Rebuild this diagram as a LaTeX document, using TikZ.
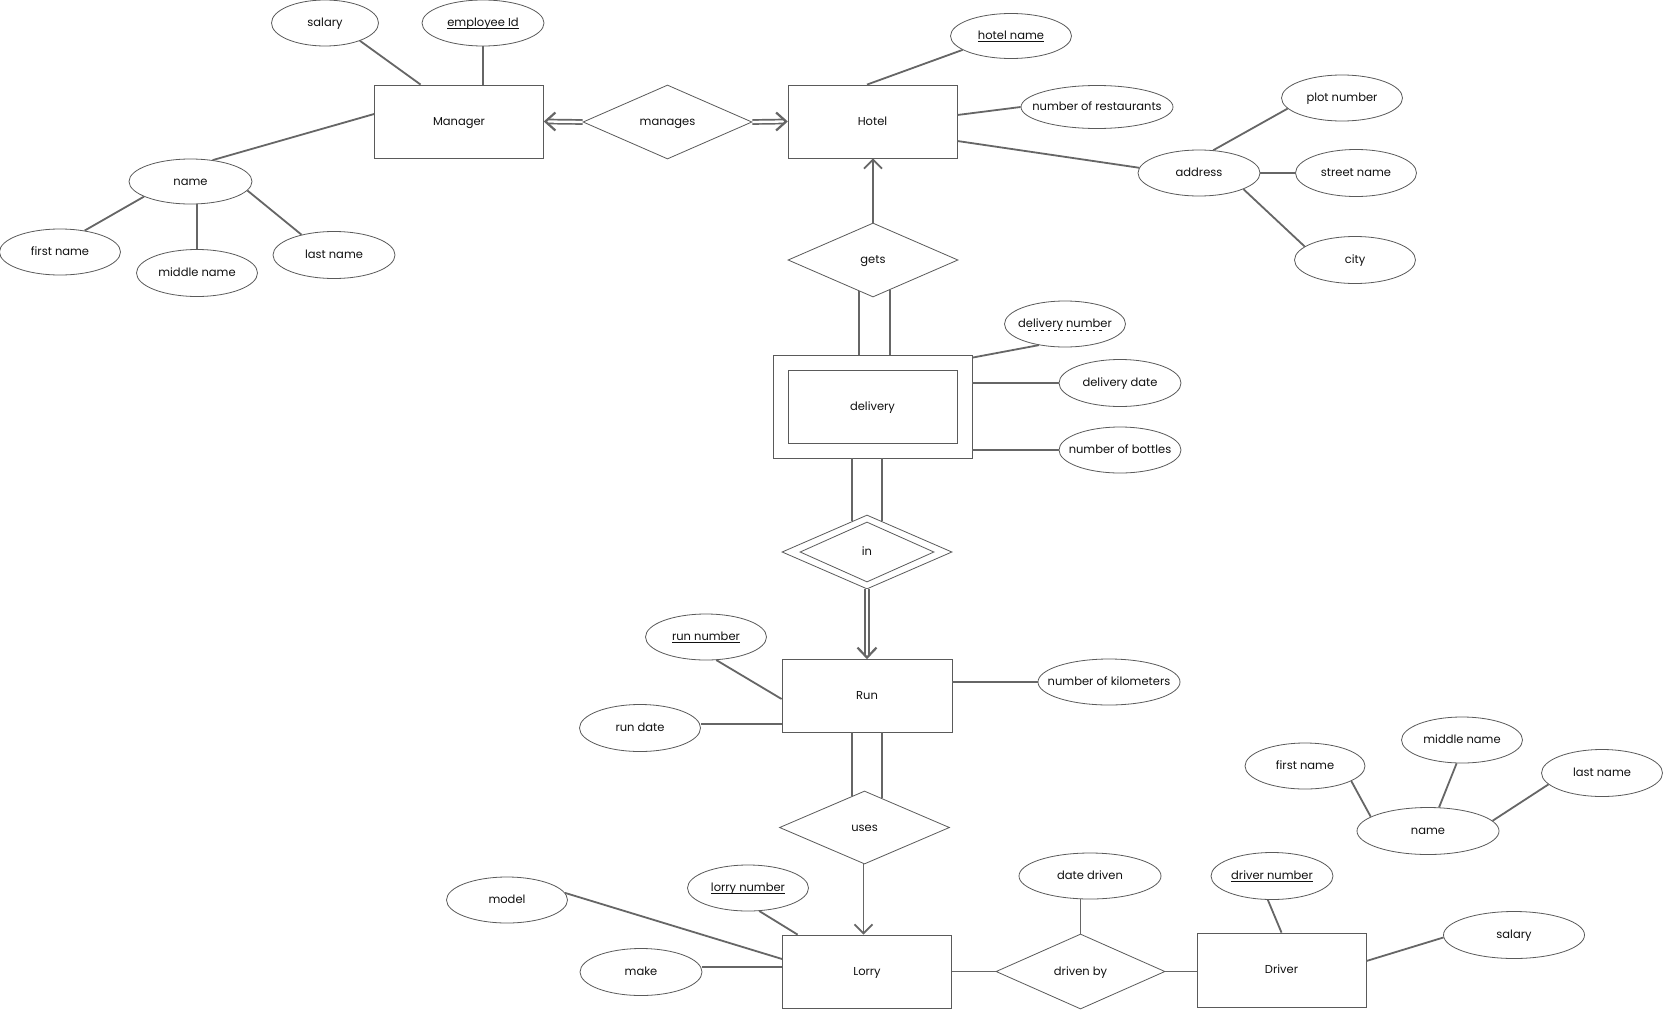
\documentclass[tikz,border=0pt]{standalone}
\usepackage{fontspec}
\setmainfont{Poppins}
\usetikzlibrary{shapes.geometric,arrows.meta,calc}
\definecolor{shp}{HTML}{5A5A5A}
\definecolor{lc}{HTML}{666666}
\definecolor{tx}{HTML}{111111}
\newcommand\mbx[1]{\makebox[0pt]{#1}}
\newsavebox\ulbox
\newcommand\solidul[1]{\sbox\ulbox{#1}\rlap{\raisebox{-2.6pt}{\rule{\wd\ulbox}{0.7pt}}}\usebox\ulbox}
\newcommand\dashul[1]{\sbox\ulbox{#1}\rlap{\raisebox{-2.6pt}{\hbox to \wd\ulbox{\hskip 8pt\xleaders\hbox to 6pt{\hss\rule{2.6pt}{0.6pt}\hss}\hfill\hskip 8pt}}}\usebox\ulbox}
\begin{document}
\begin{tikzpicture}[x=1pt,y=-1pt,
  every node/.style={font=\fontsize{11.5}{13}\selectfont, text=tx, text height=7pt, text depth=0pt},
  ent/.style={rectangle, draw=shp, line width=0.8pt, inner sep=0, minimum width=169pt, minimum height=73pt},
  rel/.style={diamond, draw=shp, line width=0.8pt, inner sep=0, minimum width=170pt, minimum height=74pt},
  attr/.style={ellipse, draw=shp, line width=0.8pt, inner sep=0, minimum width=121pt, minimum height=46pt},
  conn/.style={draw=lc, line width=1.8pt},
  arr/.style={conn, -{Straight Barb[length=9pt,width=18pt]}},
  dbl/.style={draw=lc, line width=1.7pt, double=white, double distance=2.3pt},
  chev/.style={draw=lc, line width=2.2pt, line join=miter}]
\fill[white] (0,0) rectangle (1664,1009);
\useasboundingbox (0,0) rectangle (1664,1009);

% entities
\node[ent] (manager) at (459,121.5) {Manager};
\node[ent] (hotel) at (872.5,121.5) {Hotel};
\node[ent, minimum width=199pt, minimum height=103pt] (delivery) at (872.5,406.5) {};
\node[ent] (delivin) at (872.5,407) {delivery};
\node[ent, minimum width=170pt] (run) at (867,695.5) {Run};
\node[ent] (lorry) at (867,971.5) {Lorry};
\node[ent, minimum height=74pt] (driver) at (1281.5,970) {Driver};

% relationships
\node[rel, minimum width=169pt] (manages) at (667.5,122) {manages};
\node[rel] (gets) at (873,260) {gets};
\node[rel] (inrel) at (867,552) {};
\node[rel, minimum width=134pt, minimum height=60pt] (inrelin) at (867,552) {in};
\node[rel, minimum height=73pt] (uses) at (864.5,827.5) {uses};
\node[rel, minimum width=169pt, minimum height=75pt] (drivenby) at (1080.5,971.5) {driven by};

% attributes
\node[attr, minimum width=107pt] (salary1) at (325,23) {\mbx{salary}};
\node[attr, minimum width=122pt] (empid) at (483,23) {\mbx{\solidul{employee Id}}};
\node[attr, minimum width=123pt, minimum height=45pt] (name1) at (190.5,181.5) {\mbx{name}};
\node[attr] (fname1) at (60,252) {\mbx{first name}};
\node[attr, minimum height=47pt] (mname1) at (197,273) {\mbx{middle name}};
\node[attr, minimum width=122pt, minimum height=47pt] (lname1) at (334,255) {\mbx{last name}};
\node[attr, minimum height=45pt] (hotelname) at (1011,36) {\mbx{\solidul{hotel name}}};
\node[attr, minimum width=152pt, minimum height=43pt] (numrest) at (1097,107) {\mbx{number of restaurants}};
\node[attr, minimum width=122pt] (address) at (1199,173) {\mbx{address}};
\node[attr] (plot) at (1342,98) {\mbx{plot number}};
\node[attr, minimum height=47pt] (street) at (1356,173) {\mbx{street name}};
\node[attr, minimum height=47pt] (city) at (1355,260) {\mbx{city}};
\node[attr] (delnum) at (1065,324) {\mbx{\dashul{delivery number}}};
\node[attr, minimum width=122pt, minimum height=47pt] (deldate) at (1120,383) {\mbx{delivery date}};
\node[attr, minimum width=122pt] (numbot) at (1120,450) {\mbx{number of bottles}};
\node[attr] (runnum) at (706,637) {\mbx{\solidul{run number}}};
\node[attr, minimum height=47pt] (rundate) at (640,728) {\mbx{run date}};
\node[attr, minimum width=142pt] (numkm) at (1109,682) {\mbx{number of kilometers}};
\node[attr] (lorrynum) at (748,888) {\mbx{\solidul{lorry number}}};
\node[attr] (model) at (507,900) {\mbx{model}};
\node[attr, minimum width=122pt, minimum height=47pt] (make) at (641,972) {\mbx{make}};
\node[attr, minimum width=142pt] (datedriven) at (1090,876) {\mbx{date driven}};
\node[attr, minimum width=122pt, minimum height=47pt] (drivernum) at (1272,876) {\mbx{\solidul{driver number}}};
\node[attr, minimum width=120pt] (fname2) at (1305,766) {\mbx{first name}};
\node[attr] (mname2) at (1462,740) {\mbx{middle name}};
\node[attr, minimum height=47pt] (lname2) at (1602,773) {\mbx{last name}};
\node[attr, minimum width=142pt, minimum height=47pt] (name2) at (1428,831) {\mbx{name}};
\node[attr, minimum width=141pt, minimum height=47pt] (salary2) at (1514,935) {\mbx{salary}};

% manager attributes
\draw[conn] (salary1.-27) -- ([xshift=46.5pt]manager.north west);
\draw[conn] (empid.south) -- (empid.south |- manager.north);
\draw[conn] (name1.44) -- ([yshift=7.5pt]manager.west);
\draw[conn] (name1.198) -- (fname1.41.5);
\draw[conn] (mname1.north |- name1.south) -- (mname1.north);
\draw[conn] (name1.-9) -- (lname1.148);

% manages (double lines with open heads)
\draw[dbl] (manages.west) -- ([xshift=3pt]manager.east);
\draw[chev] ([xshift=11.5pt,yshift=9pt]manager.east) -- ([xshift=1.5pt]manager.east) -- ([xshift=11.5pt,yshift=-9pt]manager.east);
\draw[dbl] (manages.east) -- ([xshift=-3pt]hotel.west);
\draw[chev] ([xshift=-11.5pt,yshift=9pt]hotel.west) -- ([xshift=-1.5pt]hotel.west) -- ([xshift=-11.5pt,yshift=-9pt]hotel.west);

% hotel attributes
\draw[conn] ([xshift=-5.5pt]hotel.north) -- (hotelname.196.7);
\draw[conn] ([yshift=6.5pt]hotel.east) -- (numrest.west);
\draw[conn] ([yshift=-19.5pt]hotel.east) -- (address.175.5);
\draw[conn] (address.58.7) -- (plot.191);
\draw[conn] (address.east) -- (street.west);
\draw[conn] (address.-20.2) -- (city.165);

% gets
\draw[arr] (gets.north) -- (gets.north |- hotel.south);
\draw[conn] ([xshift=-14pt,yshift=6pt]gets.south) -- ([xshift=-14pt]gets.south |- delivery.north);
\draw[conn] ([xshift=17pt,yshift=7.4pt]gets.south) -- ([xshift=17pt]gets.south |- delivery.north);

% delivery attributes
\draw[conn] ([yshift=-3pt]delivery.north east) -- (delnum.219.4);
\draw[conn] ([yshift=23.5pt]delivery.east) -- (deldate.west);
\draw[conn] ([yshift=-43.5pt]delivery.east) -- (numbot.west);

% in
\draw[conn] ([xshift=-15pt]inrel.north |- delivery.south) -- ([xshift=-15pt,yshift=-6.5pt]inrel.north);
\draw[conn] ([xshift=15pt]inrel.north |- delivery.south) -- ([xshift=15pt,yshift=-6.5pt]inrel.north);
\draw[dbl] (inrel.south) -- ([yshift=3pt]run.north);
\draw[chev] ([xshift=-9.5pt,yshift=11pt]run.north) -- ([yshift=1pt]run.north) -- ([xshift=9.5pt,yshift=11pt]run.north);

% run attributes
\draw[conn] (runnum.-66.5) -- ([yshift=-3.5pt]run.west);
\draw[conn] ([yshift=-28.5pt]run.west) -- ([yshift=-28.5pt]run.west -| rundate.east);
\draw[conn] ([yshift=13.5pt]run.east) -- (numkm.west);

% uses
\draw[conn] ([xshift=-12.5pt,yshift=-5.4pt]uses.north) -- ([xshift=-12.5pt]uses.north |- run.south);
\draw[conn] ([xshift=17.5pt,yshift=-7.5pt]uses.north) -- ([xshift=17.5pt]uses.north |- run.south);
\draw[arr] ([xshift=-1pt]uses.south) -- ([xshift=-1pt]uses.south |- lorry.north);

% lorry attributes
\draw[conn] (lorrynum.-64.4) -- ([xshift=15.5pt]lorry.north west);
\draw[conn] (model.7.6) -- ([yshift=12.5pt]lorry.west);
\draw[conn] ([yshift=4.5pt]lorry.west) -- ([yshift=4.5pt]lorry.west -| make.east);

% driven by
\draw[conn] (lorry.east) -- (drivenby.west);
\draw[conn] (drivenby.east) -- (drivenby.east -| driver.west);
\draw[conn] (drivenby.north) -- (drivenby.north |- datedriven.south);

% driver attributes
\draw[conn] (drivernum.260.5) -- (driver.north);
\draw[conn] ([yshift=9pt]driver.east) -- (salary2.182);
\draw[conn] (fname2.-18.1) -- (name2.166);
\draw[conn] (mname2.257.7) -- (name2.65.4);
\draw[conn] (lname2.192.3) -- (name2.9.3);
\end{tikzpicture}
\end{document}
